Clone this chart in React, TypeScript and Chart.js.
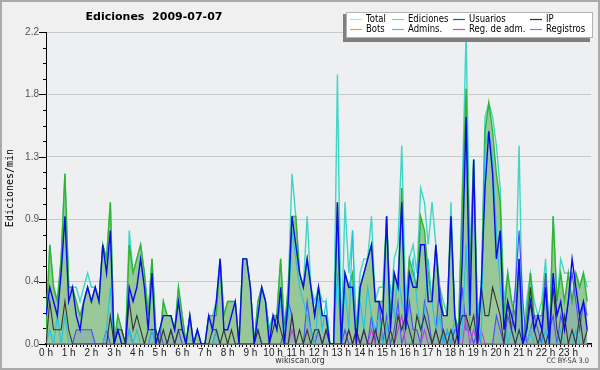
import React, { useEffect, useRef } from 'react';
import { Chart, registerables } from 'chart.js';

Chart.register(...registerables);

const chartTitle = 'Ediciones  2009-07-07';
const yAxisTitle = 'Ediciones/min';
const footerText = 'wikiscan.org';
const licenseText = 'CC BY-SA 3.0';

const hourLabels = ['0 h','1 h','2 h','3 h','4 h','5 h','6 h','7 h','8 h','9 h','10 h','11 h','12 h','13 h','14 h','15 h','16 h','17 h','18 h','19 h','20 h','21 h','22 h','23 h'];
const yTickLabels = ['0.0', '0.4', '0.9', '1.3', '1.8', '2.2'];
const yMax = 2.2;

const seriesNames = ['Total', 'Ediciones', 'Usuarios', 'IP', 'Bots', 'Admins.', 'Reg. de adm.', 'Registros'];

// 10-minute buckets, edits per minute
const total = [
  0.1,0.7,0.4,0.3,0.6,1.2,0.4,0.4,0.4,0.3,0.4,0.5,
  0.4,0.4,0.3,0.7,0.6,1.0,0.0,0.2,0.1,0.0,0.8,0.5,
  0.6,0.7,0.5,0.2,0.6,0.1,0.0,0.3,0.2,0.2,0.1,0.4,
  0.2,0.0,0.2,0.0,0.1,0.0,0.0,0.2,0.2,0.3,0.6,0.2,
  0.3,0.3,0.3,0.0,0.6,0.6,0.4,0.0,0.3,0.4,0.3,0.1,
  0.2,0.2,0.6,0.1,0.4,1.2,0.9,0.5,0.4,0.9,0.4,0.3,
  0.4,0.3,0.3,0.0,0.0,1.9,0.0,1.0,0.5,0.8,0.1,0.5,
  0.6,0.6,0.9,0.3,0.4,0.4,0.9,0.2,0.6,0.7,1.4,0.3,
  0.6,0.7,0.5,1.1,1.0,0.7,1.0,0.7,0.4,0.3,0.2,1.0,
  0.2,0.1,1.1,2.2,0.6,1.3,0.2,0.4,1.6,1.7,1.6,1.4,
  1.1,0.3,0.5,0.3,0.3,1.4,0.0,0.3,0.5,0.3,0.2,0.3,
  0.6,0.0,0.9,0.3,0.6,0.5,0.5,0.5,0.5,0.4,0.5,0.4,
];
const ediciones = [
  0.1,0.7,0.4,0.3,0.6,1.2,0.4,0.4,0.3,0.2,0.3,0.4,
  0.3,0.4,0.3,0.7,0.6,1.0,0.0,0.2,0.1,0.0,0.7,0.5,
  0.6,0.7,0.5,0.2,0.6,0.1,0.0,0.3,0.2,0.2,0.1,0.4,
  0.2,0.0,0.2,0.0,0.1,0.0,0.0,0.2,0.2,0.2,0.6,0.2,
  0.3,0.3,0.3,0.0,0.6,0.6,0.4,0.0,0.3,0.4,0.3,0.1,
  0.2,0.2,0.6,0.1,0.4,0.9,0.9,0.5,0.4,0.6,0.4,0.2,
  0.4,0.2,0.2,0.0,0.0,1.0,0.0,0.5,0.4,0.5,0.1,0.4,
  0.5,0.6,0.7,0.3,0.3,0.3,0.9,0.2,0.5,0.4,1.1,0.1,
  0.6,0.5,0.4,0.9,0.8,0.5,0.3,0.7,0.4,0.2,0.2,0.9,
  0.2,0.1,1.0,1.8,0.5,1.3,0.2,0.3,1.5,1.7,1.5,1.2,
  1.0,0.2,0.5,0.3,0.2,0.6,0.0,0.2,0.5,0.2,0.2,0.2,
  0.5,0.0,0.9,0.3,0.5,0.3,0.5,0.3,0.5,0.4,0.5,0.3,
];
const usuarios = [
  0.2,0.4,0.3,0.2,0.5,0.9,0.3,0.4,0.2,0.1,0.3,0.4,
  0.3,0.4,0.3,0.7,0.5,0.8,0.0,0.1,0.0,0.0,0.4,0.3,
  0.4,0.6,0.4,0.1,0.5,0.0,0.1,0.2,0.2,0.2,0.1,0.3,
  0.1,0.0,0.2,0.0,0.1,0.0,0.0,0.2,0.1,0.3,0.6,0.1,
  0.1,0.2,0.3,0.0,0.6,0.6,0.4,0.0,0.2,0.4,0.3,0.0,
  0.2,0.1,0.4,0.0,0.3,0.9,0.7,0.5,0.4,0.6,0.4,0.2,
  0.4,0.2,0.2,0.0,0.0,1.0,0.0,0.5,0.4,0.4,0.0,0.4,
  0.5,0.6,0.7,0.3,0.3,0.2,0.9,0.1,0.5,0.4,1.0,0.1,
  0.5,0.4,0.4,0.7,0.7,0.3,0.3,0.7,0.3,0.2,0.2,0.9,
  0.2,0.0,0.6,1.6,0.2,1.3,0.0,0.4,1.1,1.5,1.2,0.6,
  0.8,0.1,0.3,0.2,0.1,0.6,0.0,0.1,0.3,0.1,0.2,0.1,
  0.4,0.0,0.5,0.2,0.3,0.1,0.3,0.6,0.4,0.2,0.3,0.1,
];
const ip = [
  0.0,0.3,0.1,0.1,0.1,0.3,0.1,0.0,0.0,0.0,0.0,0.0,
  0.0,0.0,0.0,0.0,0.0,0.2,0.0,0.1,0.1,0.0,0.3,0.1,
  0.2,0.1,0.0,0.1,0.1,0.1,0.0,0.1,0.0,0.1,0.0,0.1,
  0.1,0.0,0.0,0.0,0.0,0.0,0.0,0.0,0.1,0.1,0.0,0.1,
  0.0,0.1,0.0,0.0,0.0,0.0,0.0,0.0,0.1,0.0,0.0,0.0,
  0.1,0.2,0.1,0.0,0.0,0.2,0.0,0.1,0.0,0.1,0.0,0.1,
  0.1,0.0,0.1,0.0,0.0,0.0,0.0,0.0,0.1,0.0,0.1,0.0,
  0.1,0.0,0.0,0.1,0.0,0.2,0.0,0.1,0.0,0.2,0.1,0.2,
  0.1,0.0,0.2,0.1,0.2,0.1,0.0,0.1,0.0,0.1,0.0,0.1,
  0.0,0.1,0.2,0.2,0.1,0.2,0.0,0.4,0.2,0.2,0.4,0.3,
  0.2,0.0,0.3,0.1,0.0,0.1,0.0,0.1,0.4,0.1,0.0,0.1,
  0.0,0.1,0.4,0.1,0.0,0.2,0.0,0.1,0.0,0.2,0.0,0.1,
];
const bots = [
  0,0,0,0,0,0,0,0,0,0,0,0,
  0,0,0,0,0,0,0,0,0,0,0,0,
  0,0,0,0,0,0,0,0,0,0,0,0,
  0,0,0,0,0,0,0,0,0,0,0,0,
  0,0,0,0,0,0,0,0,0,0,0,0,
  0,0,0,0,0,0,0,0,0,0,0,0,
  0,0,0,0,0,0,0,0,0,0,0,0,
  0,0,0,0,0,0,0,0,0,0,0,0,
  0,0,0,0,0,0,0,0,0,0,0,0,
  0,0,0,0,0,0,0,0,0,0,0,0,
  0,0,0,0,0,0,0,0,0,0,0,0,
  0,0,0,0,0,0,0,0,0,0,0,0,
];
const admins = [
  0.0,0.1,0.0,0.2,0.0,0.2,0.0,0.0,0.0,0.0,0.0,0.0,
  0.0,0.0,0.0,0.0,0.1,0.4,0.0,0.1,0.0,0.0,0.1,0.0,
  0.1,0.0,0.0,0.0,0.1,0.0,0.0,0.0,0.0,0.0,0.0,0.0,
  0.0,0.0,0.0,0.0,0.0,0.0,0.0,0.0,0.0,0.1,0.0,0.0,
  0.0,0.0,0.0,0.0,0.0,0.0,0.0,0.0,0.2,0.4,0.3,0.1,
  0.2,0.1,0.3,0.1,0.2,0.8,0.6,0.4,0.3,0.2,0.1,0.0,
  0.3,0.1,0.3,0.0,0.0,0.5,0.0,0.4,0.1,0.8,0.0,0.3,
  0.1,0.4,0.2,0.1,0.2,0.0,0.1,0.4,0.2,0.5,0.3,0.2,
  0.4,0.6,0.3,0.1,0.2,0.6,0.3,0.1,0.2,0.0,0.1,0.0,
  0.2,0.0,0.1,0.7,0.1,0.1,0.3,0.0,1.4,1.5,1.3,0.8,
  0.4,0.2,0.0,0.1,0.0,0.1,0.0,0.0,0.1,0.0,0.0,0.0,
  0.1,0.0,0.0,0.0,0.1,0.0,0.0,0.0,0.1,0.0,0.0,0.0,
];
const regAdm = [
  0,0,0,0,0,0,0,0,0,0,0,0,
  0,0,0,0,0,0,0,0,0,0,0,0,
  0,0,0,0,0,0,0,0,0,0,0,0,
  0,0,0,0,0,0,0,0,0,0,0,0,
  0,0,0,0,0,0,0,0,0,0,0,0,
  0,0,0,0,0,0.1,0,0,0,0,0,0,
  0,0,0,0,0,0,0,0,0.1,0,0.1,0,
  0,0,0.1,0,0,0,0,0,0,0.1,0.2,0,
  0,0,0,0,0.1,0,0,0,0,0,0,0,
  0,0,0,0.2,0,0.1,0,0.1,0,0,0,0,
  0,0,0,0,0,0,0,0,0,0,0,0,
  0,0,0,0,0,0,0,0,0,0,0,0,
];
const registros = [
  0.0,0.0,0.0,0.0,0.0,0.0,0.0,0.0,0.1,0.1,0.1,0.1,
  0.1,0.0,0.0,0.0,0.1,0.0,0.0,0.0,0.0,0.0,0.1,0.0,
  0.0,0.0,0.0,0.0,0.1,0.0,0.1,0.0,0.0,0.1,0.0,0.1,
  0.0,0.0,0.0,0.0,0.0,0.0,0.0,0.0,0.0,0.1,0.0,0.0,
  0.0,0.0,0.0,0.0,0.0,0.0,0.0,0.0,0.1,0.0,0.0,0.0,
  0.0,0.0,0.0,0.1,0.3,0.2,0.0,0.0,0.0,0.3,0.1,0.0,
  0.1,0.0,0.1,0.0,0.0,0.0,0.0,0.1,0.0,0.0,0.1,0.0,
  0.1,0.0,0.2,0.0,0.3,0.0,0.2,0.0,0.1,0.3,0.0,0.1,
  0.3,0.1,0.1,0.0,0.3,0.2,0.0,0.1,0.4,0.0,0.1,0.0,
  0.1,0.1,0.4,0.1,0.1,0.0,0.1,0.0,0.0,0.0,0.0,0.2,
  0.1,0.0,0.2,0.1,0.4,0.8,0.3,0.0,0.1,0.2,0.1,0.0,
  0.5,0.1,0.2,0.0,0.2,0.1,0.3,0.5,0.3,0.1,0.3,0.2,
];

const TEXT_FONT = "'DejaVu Sans', sans-serif";
const TICK_FONT = "'Liberation Sans', sans-serif";
const BUCKETS_PER_HOUR = 6;

const toPoints = (arr: number[]) => arr.map((y, i) => ({ x: i, y }));

// draw text horizontally condensed (imitates a condensed sans face)
function condensedText(ctx: CanvasRenderingContext2D, text: string, x: number, y: number, align: 'left' | 'center' | 'right', sx = 0.86) {
  ctx.save();
  ctx.translate(x, y);
  ctx.scale(sx, 1);
  ctx.textAlign = align;
  ctx.fillText(text, 0, 0);
  ctx.restore();
}

const decorPlugin = {
  id: 'decor',
  beforeDraw(chart: any) {
    const { ctx, width, height, chartArea: ca } = chart;
    ctx.save();
    ctx.fillStyle = '#f0f0f0';
    ctx.fillRect(0, 0, width, height);
    ctx.fillStyle = '#eeeff1';
    ctx.fillRect(ca.left, ca.top, ca.right - ca.left, ca.bottom - ca.top);
    ctx.strokeStyle = '#aaaaaa';
    ctx.lineWidth = 2;
    ctx.strokeRect(1, 1, width - 2, height - 2);
    ctx.restore();
  },
  afterDraw(chart: any) {
    const { ctx, chartArea: ca } = chart;
    const ys = chart.scales.y;
    ctx.save();
    // y tick marks (major long, minor short)
    ctx.strokeStyle = '#000';
    ctx.lineWidth = 1;
    ys.ticks.forEach((t: any, k: number) => {
      const py = Math.round(ys.getPixelForValue(t.value)) + 0.5;
      const len = k % 4 === 0 ? 7 : 3;
      ctx.beginPath();
      ctx.moveTo(ys.right - len, py);
      ctx.lineTo(ys.right, py);
      ctx.stroke();
    });
    // title
    ctx.fillStyle = '#000';
    ctx.font = `bold 11px ${TEXT_FONT}`;
    ctx.textAlign = 'center';
    ctx.textBaseline = 'middle';
    ctx.fillText(chartTitle, 154, 17);
    // y axis title
    ctx.save();
    ctx.translate(10, (ca.top + ca.bottom) / 2);
    ctx.rotate(-Math.PI / 2);
    ctx.font = "10px 'DejaVu Sans Mono', monospace";
    ctx.fillText(yAxisTitle, 0, 0);
    ctx.restore();
    // footer
    ctx.fillStyle = '#333';
    ctx.font = `9px ${TEXT_FONT}`;
    condensedText(ctx, footerText, 300, 361, 'center', 0.88);
    ctx.font = `7.5px ${TEXT_FONT}`;
    condensedText(ctx, licenseText, 589, 361, 'right', 0.88);
    // legend
    const bx = 346, by = 12, bw = 247, bh = 26;
    ctx.fillStyle = '#7f7f7f';
    ctx.fillRect(bx - 3, by + 2, bw, bh + 2);
    ctx.fillStyle = '#ffffff';
    ctx.fillRect(bx, by, bw, bh);
    ctx.strokeStyle = '#b4b4b4';
    ctx.lineWidth = 1;
    ctx.strokeRect(bx + 0.5, by + 0.5, bw - 1, bh - 1);
    const colX = [350, 392, 453, 530];
    const rowY = [19.5, 29.5];
    ctx.font = `10px ${TEXT_FONT}`;
    ctx.textBaseline = 'middle';
    chart.data.datasets.forEach((ds: any, k: number) => {
      const cx = colX[k % 4];
      const cy = rowY[Math.floor(k / 4)];
      ctx.strokeStyle = ds.legendColor;
      ctx.lineWidth = 1.2;
      ctx.beginPath();
      ctx.moveTo(cx, cy);
      ctx.lineTo(cx + 12, cy);
      ctx.stroke();
      ctx.fillStyle = '#000';
      condensedText(ctx, ds.label, cx + 16, cy, 'left', 0.85);
    });
    ctx.restore();
  },
};

export default function App() {
  const ref = useRef<HTMLCanvasElement | null>(null);
  useEffect(() => {
    document.body.style.margin = '0';
    if (!ref.current) return;
    const line = (label: string, data: number[], color: string, legendColor: string, width: number, order: number, extra: any = {}) => ({
      label,
      data: toPoints(data),
      borderColor: color,
      legendColor,
      borderWidth: width,
      pointRadius: 0,
      tension: 0,
      fill: false,
      order,
      ...extra,
    });
    const chart = new Chart(ref.current, {
      type: 'line',
      data: {
        datasets: [
          line(seriesNames[0], total, '#3fd6c6', '#a8e8e0', 1.4, 6),
          line(seriesNames[1], ediciones, '#2fb52f', '#88d088', 1.4, 5, { fill: 'origin', backgroundColor: '#98c898' }),
          line(seriesNames[2], usuarios, '#0a0aee', '#3a3aee', 1.4, 0),
          line(seriesNames[3], ip, '#333333', '#333333', 1.1, 1),
          line(seriesNames[4], bots, '#ff9933', '#ff9933', 1.1, 7),
          line(seriesNames[5], admins, '#1ec4e4', '#3cc8e4', 1.1, 2),
          line(seriesNames[6], regAdm, '#c43cdc', '#cc44dd', 1.1, 3),
          line(seriesNames[7], registros, '#4a4aff', '#7a7aff', 1.1, 4, { fill: 'origin', backgroundColor: 'rgba(70,70,255,0.12)' }),
        ] as any,
      },
      options: {
        responsive: false,
        animation: false,
        events: [],
        layout: { padding: { top: 32, right: 9, left: 0, bottom: 0 } },
        plugins: { legend: { display: false }, tooltip: { enabled: false }, title: { display: false } },
        scales: {
          x: {
            type: 'linear',
            min: 0,
            max: 24 * BUCKETS_PER_HOUR,
            z: 1,
            afterFit: (s: any) => { s.height = 26; },
            ticks: {
              stepSize: 1,
              autoSkip: false,
              maxRotation: 0,
              minRotation: 0,
              padding: 0,
              color: '#222',
              font: { family: TICK_FONT, size: 10 },
              callback: (v: any) => {
                const n = Number(v);
                return n % BUCKETS_PER_HOUR === 0 && n / BUCKETS_PER_HOUR < hourLabels.length ? hourLabels[n / BUCKETS_PER_HOUR] : '';
              },
            },
            grid: { drawOnChartArea: false, tickLength: 3, tickColor: '#000', tickWidth: 1 },
            border: { color: '#000', width: 1.5 },
          },
          y: {
            type: 'linear',
            min: 0,
            max: yMax,
            afterFit: (s: any) => { s.width = 46; },
            afterBuildTicks: (s: any) => {
              const n = (yTickLabels.length - 1) * 4;
              s.ticks = Array.from({ length: n + 1 }, (_, k) => ({ value: (yMax * k) / n }));
            },
            ticks: {
              padding: 7,
              color: '#555',
              font: { family: TICK_FONT, size: 10 },
              callback: (_v: any, idx: number) => (idx % 4 === 0 ? yTickLabels[idx / 4] : ''),
            },
            grid: {
              drawTicks: false,
              color: (c: any) => (c.index % 4 === 0 ? '#c8c8c8' : 'rgba(0,0,0,0)'),
              lineWidth: 1,
            },
            border: { color: '#000', width: 1 },
          },
        },
      } as any,
      plugins: [decorPlugin],
    });
    return () => chart.destroy();
  }, []);
  return (
    <div style={{ width: 600, height: 370 }}>
      <canvas ref={ref} width={600} height={370} style={{ display: 'block' }} />
    </div>
  );
}
